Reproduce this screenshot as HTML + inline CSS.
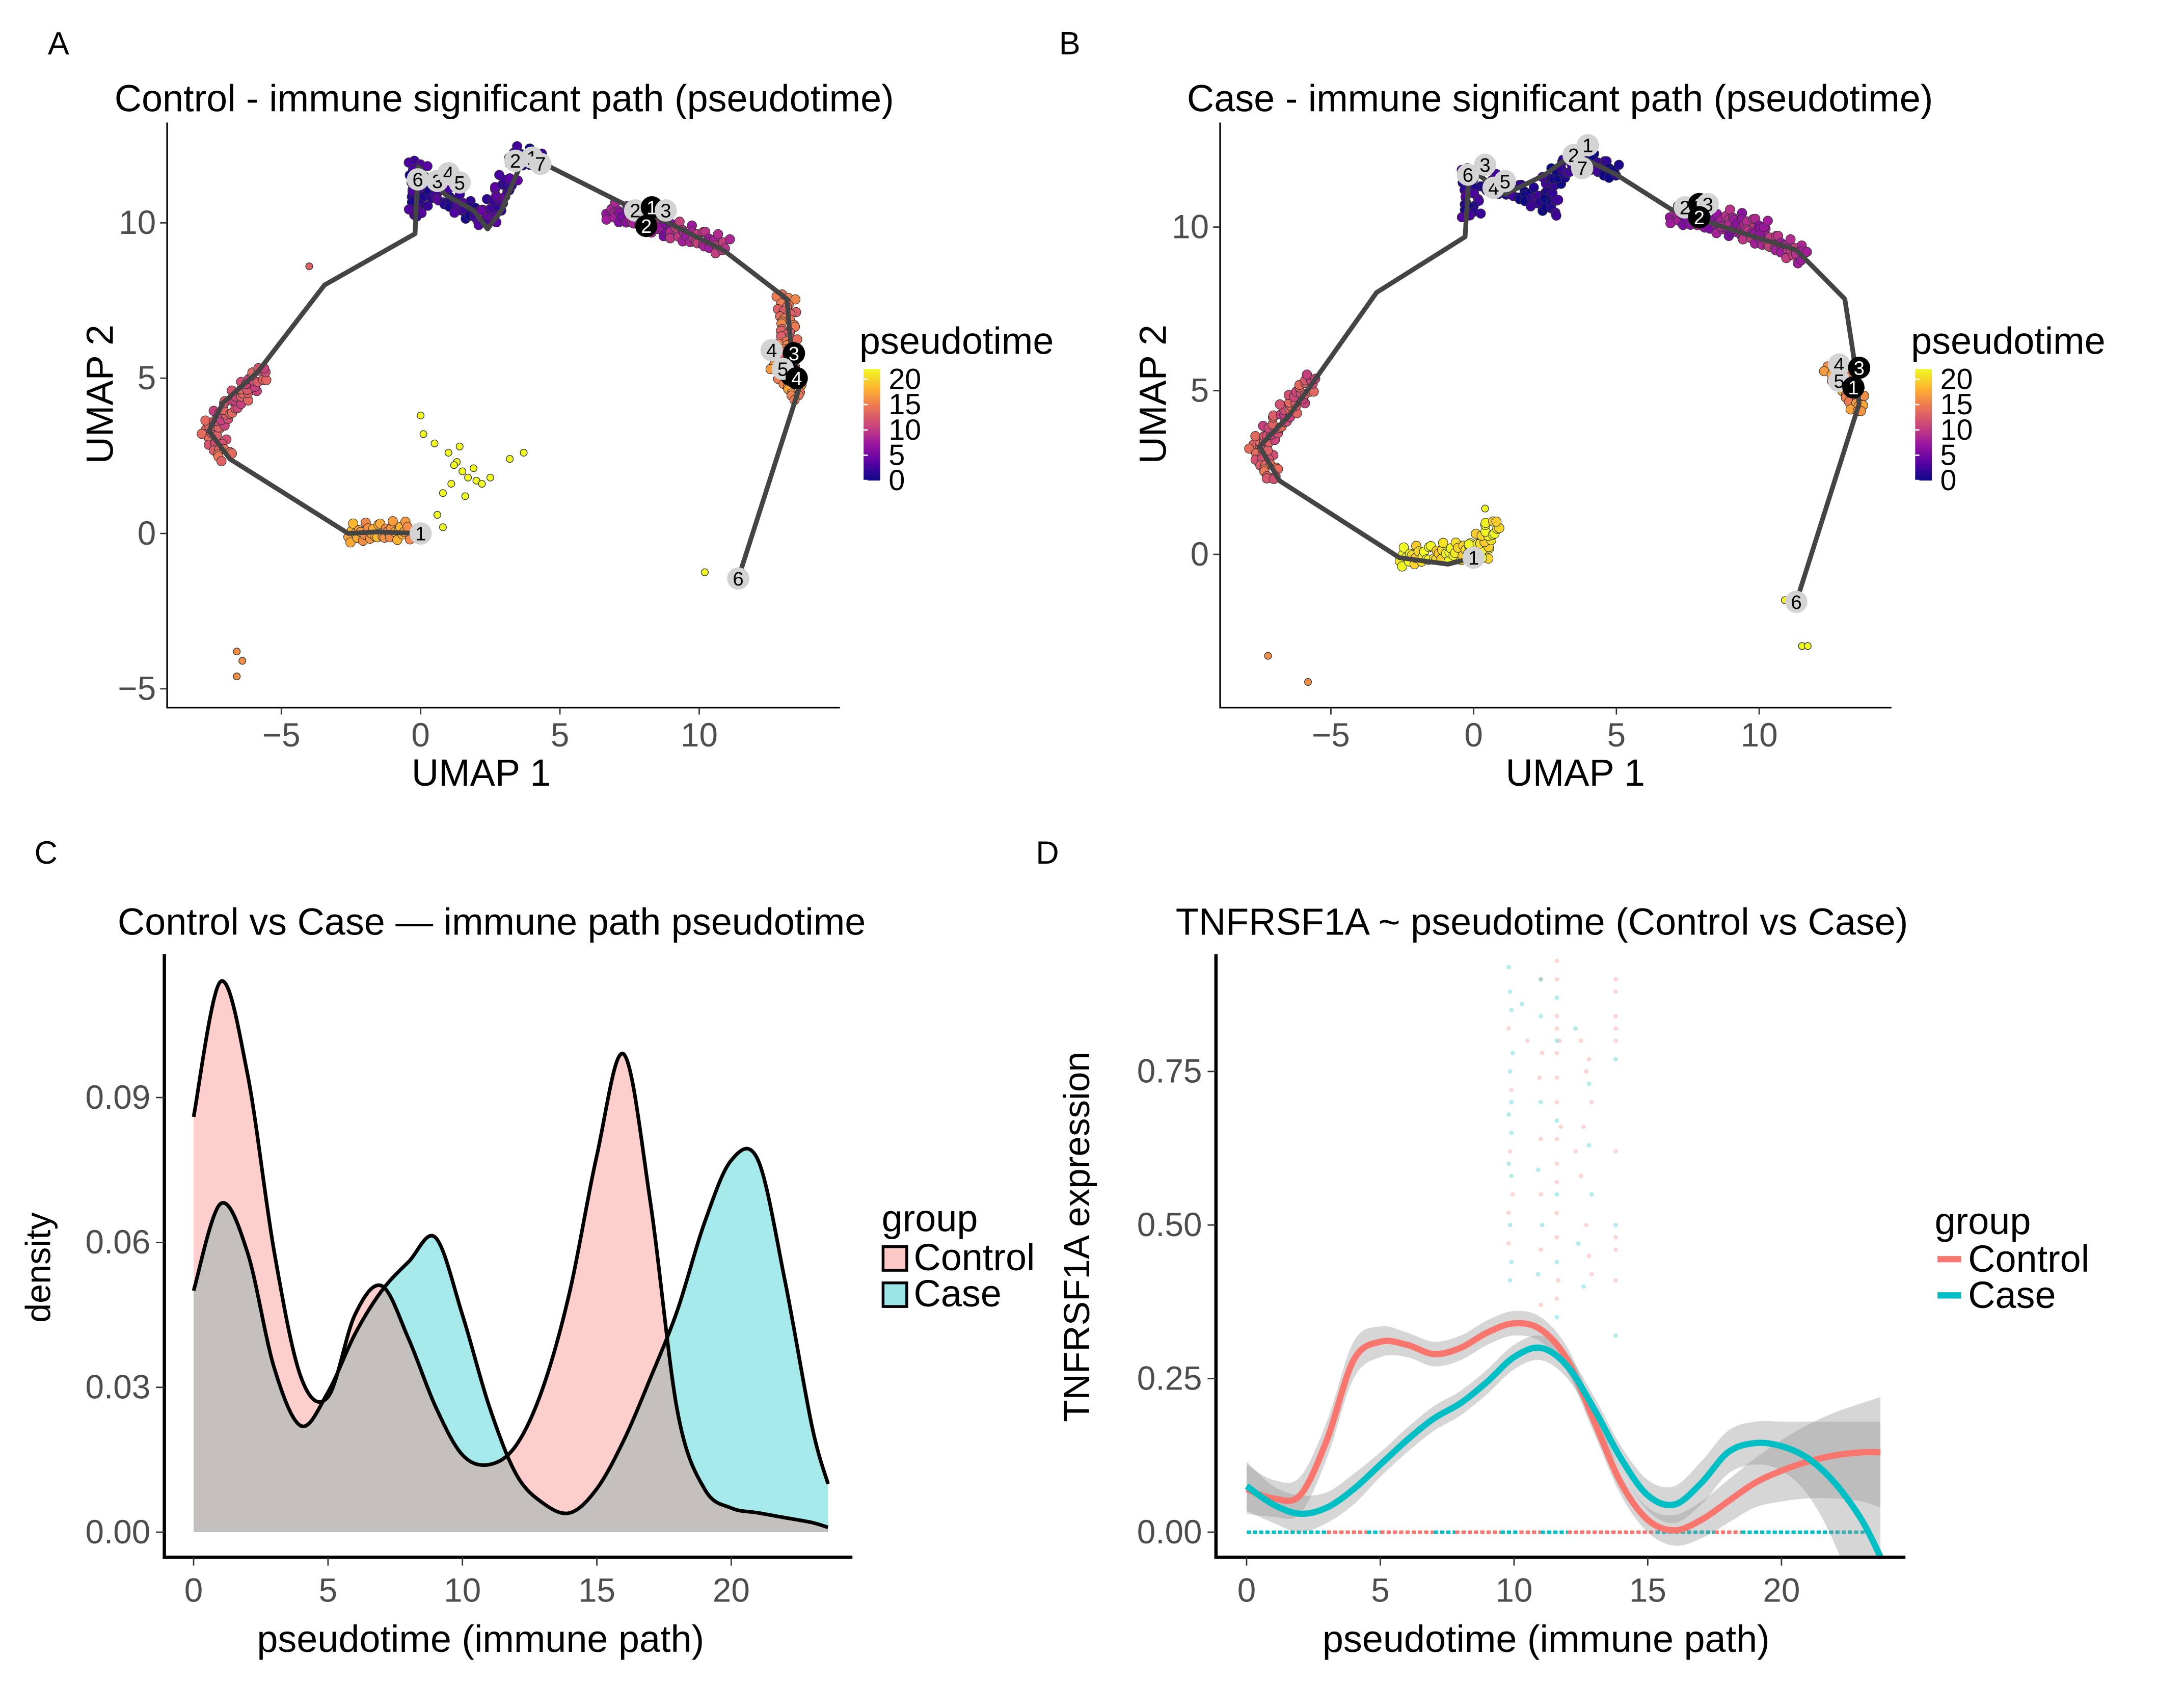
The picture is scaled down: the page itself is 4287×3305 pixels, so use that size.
<!DOCTYPE html>
<html><head><meta charset="utf-8">
<style>
html,body{margin:0;padding:0;background:#fff;}
svg{display:block;font-family:"Liberation Sans",sans-serif;}
</style></head>
<body>
<svg id="fig" xmlns="http://www.w3.org/2000/svg" width="4287" height="3305" viewBox="0 0 1568 1209" preserveAspectRatio="none">
<defs>
<linearGradient id="plasma" x1="0" y1="1" x2="0" y2="0">
<stop offset="0" stop-color="#0d0887"/><stop offset="0.17" stop-color="#5c01a6"/><stop offset="0.33" stop-color="#9c179e"/><stop offset="0.5" stop-color="#cc4778"/><stop offset="0.67" stop-color="#ed7953"/><stop offset="0.83" stop-color="#fdb42f"/><stop offset="1" stop-color="#f0f921"/>
</linearGradient>
<clipPath id="clipD"><rect x="874" y="685" width="494" height="432"/></clipPath>
</defs>
</svg>
<script>
// ---------- DATA ----------
const trajAx=[0,-1.6,-2.6,-6.85,-7.6,-7.1,-5.85,-3.45,-0.2,-0.1,0.9,1.9,2.4,2.9,3.65,4.65,7.65,8.9,10.9,13.15,13.3,13.65,11.4];
const trajAy=[0,0.05,0,2.4,3.3,4.2,5.2,8.0,9.65,11.8,10.9,10.4,9.8,10.4,12.0,11.8,10.45,10.0,9.1,7.55,5.95,4.85,-1.45];
const cellsA=[[-2.6,0,-0.4,0.1,17],[-7.6,3.4,-7.0,2.4,13],[-7.6,3.3,-5.6,5.3,12],[-0.1,12,-0.1,10.2,2],[-0.2,11.3,2.4,10.1,2],[2.4,10.1,3.2,11.5,3],[3.2,12.2,4.3,12,1],[6.7,10.4,9,9.8,7],[9,9.8,11,9.2,9],[13.1,7.7,13.2,5.3,14],[12.8,5.5,13.6,4.4,16]];
const outAx=[0,0.1,0.5,1,1.3,1.5,1.7,2,2.2,1.6,1.1,0.8,3.7,3.2,0.6,0.8,1.9,2.5,-6.6,-6.4,-6.6,10.2,-4,1.2,1.4];
const outAy=[3.8,3.2,2.9,2.6,2.3,2.0,1.8,1.7,1.6,1.2,1.6,1.3,2.6,2.4,0.6,0.2,2.1,1.8,-3.8,-4.1,-4.6,-1.25,8.6,2.2,2.8];
const outAt=[22,22,22,22,22,22,22,22,22,22,22,22,22,22,22,22,22,22,16,16,16,22,13,22,22];
const labAx=[0,-0.1,0.6,1.0,1.4,3.4,4.0,4.3,7.7,8.3,8.8,8.1,12.6,13.4,13.3,13.0,13.5,11.4];
const labAy=[0,11.4,11.35,11.6,11.3,12.0,12.1,11.9,10.4,10.5,10.4,9.9,5.9,5.8,5.1,5.3,5.0,-1.45];
const labAn=["1","6","3","4","5","2","1","7","2","1","3","2","4","3","1","5","4","6"];
const labAk=[0,0,0,0,0,0,0,0,0,1,0,1,0,1,1,0,1,0];
const trajBx=[0,-0.9,-2.6,-6.8,-7.5,-6.5,-5.75,-3.4,-0.3,-0.15,1.1,2.5,3.5,5,6.9,8.4,11.3,13,13.3,13.5,11.3];
const trajBy=[-0.1,-0.3,-0.1,2.25,3.3,4.2,5.1,8.0,9.7,11.8,11,11.6,12.25,11.6,10.55,10.1,9.3,7.8,6.1,4.6,-1.45];
const cellsB=[[-2.6,-0.1,0.6,0.2,21],[0,0,0.8,1.0,21],[-7.6,3.4,-7.0,2.3,13],[-7.5,3.3,-5.6,5.4,12],[-0.1,11.8,-0.1,10.3,2],[0.5,11.4,3.0,10.6,1],[2.5,11.2,3.6,12.1,1],[3.5,12.2,5,11.6,1],[6.9,10.4,9.5,9.9,7],[9.5,9.9,11.6,9.1,9],[8.7,10.3,10.2,9.9,8],[12.5,5.8,13.6,4.4,16]];
const outBx=[-7.2,-5.8,10.9,11.5,11.7,0.4];
const outBy=[-3.1,-3.9,-1.4,-2.8,-2.8,1.4];
const outBt=[16,16,22,22,22,22];
const labBx=[0,-0.2,0.4,0.7,1.1,3.5,4.0,3.8,7.4,7.9,8.2,7.9,12.8,13.5,12.8,13.3,11.3];
const labBy=[-0.1,11.6,11.9,11.2,11.4,12.2,12.5,11.8,10.6,10.7,10.7,10.3,5.8,5.7,5.3,5.1,-1.45];
const labBn=["1","6","3","4","5","2","1","7","2","1","3","2","4","3","5","1","6"];
const labBk=[0,0,0,0,0,0,0,0,0,1,0,1,0,1,0,1,0];
// Panel C densities
const densT=[0,1,2,3,4,5,6,7,8,9,10,11,12,13,14,15,16,17,18,19,20,21,22,23,23.6];
const densControl=[0.086,0.114,0.095,0.058,0.032,0.028,0.045,0.051,0.040,0.026,0.016,0.014,0.018,0.030,0.050,0.078,0.099,0.068,0.025,0.009,0.005,0.004,0.003,0.002,0.001];
const densCase=[0.050,0.068,0.058,0.034,0.022,0.029,0.041,0.050,0.056,0.061,0.045,0.026,0.012,0.006,0.004,0.009,0.019,0.032,0.046,0.064,0.077,0.077,0.052,0.022,0.010];
const cTicks=[0,5,10,15,20];
const cYTicks=[0,0.03,0.06,0.09];
const cYLabels=["0.00","0.03","0.06","0.09"];
// Panel D smooths
const smT=[0,1,2,3,4,5,6,7,8,9,10,11,12,13,14,15,16,17,18,19,20,21,22,23,23.7];
const smControl=[0.07,0.055,0.06,0.15,0.28,0.31,0.305,0.29,0.30,0.325,0.34,0.33,0.28,0.18,0.08,0.02,0.003,0.02,0.05,0.08,0.10,0.115,0.125,0.13,0.13];
const seControl=[0.04,0.03,0.03,0.03,0.03,0.025,0.02,0.02,0.02,0.02,0.02,0.02,0.02,0.02,0.02,0.02,0.025,0.03,0.035,0.04,0.05,0.06,0.07,0.08,0.09];
const smCase=[0.075,0.045,0.03,0.04,0.07,0.11,0.15,0.185,0.21,0.245,0.285,0.30,0.27,0.20,0.12,0.06,0.045,0.08,0.13,0.145,0.14,0.12,0.08,0.02,-0.04];
const seCase=[0.04,0.03,0.03,0.025,0.025,0.02,0.02,0.02,0.02,0.02,0.02,0.02,0.02,0.02,0.02,0.025,0.03,0.035,0.035,0.035,0.04,0.06,0.1,0.16,0.22];
// scatter of non-zero expression (pseudotime, value, group 1=case)
const ptT=[9.8,9.85,9.9,9.8,9.95,9.85,9.9,9.8,9.9,9.85,9.8,9.9,9.95,9.85,9.8,9.9,9.85,9.8,9.9,10.3,10.5,
 11.0,11.0,11.05,10.95,11.0,11.0,10.9,11.0,11.05,11.0,10.9,11.0,11.05,11.0,
 11.6,11.6,11.6,11.6,11.6,11.6,11.6,11.6,11.6,11.6,11.6,11.6,11.6,11.6,11.6,11.6,11.6,11.65,11.6,11.6,11.7,11.75,
 12.3,12.5,12.7,12.8,12.9,12.6,12.8,12.5,12.9,12.7,12.4,12.8,12.9,12.6,12.3,12.8,
 13.8,13.8,13.8,13.8,13.8,13.8,13.8,13.8,13.8,13.8,13.8,13.8];
const ptY=[0.92,0.88,0.85,0.82,0.78,0.75,0.72,0.68,0.65,0.62,0.6,0.58,0.55,0.5,0.47,0.44,0.41,0.52,0.7,0.86,0.8,
 0.9,0.84,0.78,0.74,0.7,0.64,0.59,0.55,0.5,0.46,0.42,0.37,0.33,0.9,
 0.93,0.9,0.87,0.84,0.82,0.8,0.78,0.74,0.7,0.67,0.64,0.6,0.57,0.55,0.52,0.48,0.44,0.41,0.38,0.35,0.8,0.66,
 0.82,0.8,0.75,0.73,0.7,0.66,0.63,0.58,0.55,0.5,0.47,0.45,0.42,0.4,0.62,0.77,
 0.9,0.88,0.84,0.82,0.8,0.77,0.62,0.5,0.48,0.46,0.41,0.32];
const ptG=[1,1,1,0,1,1,0,1,1,0,1,1,0,1,0,1,1,0,1,1,0,
 0,1,0,0,1,0,1,0,1,0,1,0,0,1,
 0,0,1,0,0,1,0,0,0,1,0,0,0,1,0,0,1,0,0,1,0,0,
 1,0,0,1,0,0,1,0,1,0,1,0,0,1,0,0,
 0,0,0,0,0,1,0,1,0,0,0,1];
const rugControl=[[3,4.5],[5,7],[7.8,9.5],[10.2,11],[12,15.3],[17.5,18.5]];
const rugCase=[[0,3],[4.5,5],[7,7.8],[9.5,10.2],[11,12],[15.3,17.5],[18.5,23.2]];
const dTicks=[0,5,10,15,20];
const dYTicks=[0,0.25,0.5,0.75];
const dYLabels=["0.00","0.25","0.50","0.75"];

// ---------- helpers ----------
const svg=document.getElementById('fig');
const NS='http://www.w3.org/2000/svg';
function mk(tag,attrs,parent){const e=document.createElementNS(NS,tag);for(const k in attrs)e.setAttribute(k,attrs[k]);(parent||svg).appendChild(e);return e;}
const stops=[[13,8,135],[92,1,166],[156,23,158],[204,71,120],[237,121,83],[253,180,47],[240,249,33]];
function plasma(t){let v=Math.max(0,Math.min(1,t/22))*6;const i=Math.min(5,Math.floor(v)),f=v-i;const a=stops[i],b=stops[i+1];return 'rgb('+[0,1,2].map(k=>Math.round(a[k]+(b[k]-a[k])*f)).join(',')+')';}
function txt(x,y,s,size,opt){opt=opt||{};const e=mk('text',{x:x,y:y,'font-size':size,fill:opt.fill||'#000','text-anchor':opt.anchor||'middle'},opt.parent);if(opt.rot)e.setAttribute('transform','rotate(-90 '+x+' '+y+')');e.textContent=s;return e;}
function smooth(pts){let d='M'+pts[0][0]+','+pts[0][1];for(let i=0;i<pts.length-1;i++){const p0=pts[i-1]||pts[i],p1=pts[i],p2=pts[i+1],p3=pts[i+2]||p2;d+=' C'+(p1[0]+(p2[0]-p0[0])/6)+','+(p1[1]+(p2[1]-p0[1])/6)+' '+(p2[0]-(p3[0]-p1[0])/6)+','+(p2[1]-(p3[1]-p1[1])/6)+' '+p2[0]+','+p2[1];}return d;}
const TICK=24, AXT=27, TIT=27;

let t;
t=txt(42,39,'A',23);
t=txt(768,39,'B',23);
t=txt(33,620,'C',23);
t=txt(752,620,'D',23);

function umap(cfg){
  const g=mk('g',{});
  
  
  const X=v=>cfg.x0+cfg.sx*v, Y=v=>cfg.y0-cfg.sy*v;
  cfg.cells.forEach(c=>{
    const px0=X(c[0]),py0=Y(c[1]),px1=X(c[2]),py1=Y(c[3]);
    const L=Math.hypot(px1-px0,py1-py0),n=Math.max(2,Math.round(L/1.3));
    const nx=-(py1-py0)/(L||1),ny=(px1-px0)/(L||1);
    for(let i=0;i<=n;i++){const f=i/n;const o=5*Math.sin(i*1.7)+2.5*Math.cos(i*0.9);
      const d=mk('circle',{cx:px0+(px1-px0)*f+nx*o,cy:py0+(py1-py0)*f+ny*o,r:3.4,fill:plasma(c[4]+1.5*Math.sin(i*0.5)),stroke:'#333','stroke-width':0.4},g);
      
      }
  });
  cfg.ox.forEach((v,i)=>{const d=mk('circle',{cx:X(v),cy:Y(cfg.oy[i]),r:2.5,fill:plasma(cfg.ot[i]),stroke:'#333','stroke-width':0.5},g);
    
    });
  const pl=mk('polyline',{points:cfg.tx.map((v,i)=>X(v)+','+Y(cfg.ty[i])).join(' '),fill:'none',stroke:'#444','stroke-width':3.4,'stroke-linejoin':'round'},g);
  
  
  cfg.lx.forEach((v,i)=>{const k=cfg.lk[i];
    const c=mk('circle',{cx:X(v),cy:Y(cfg.ly[i]),r:8,fill:k?'#000':'#d3d3d3'},g);
    
    
    const tt=txt(X(v),Y(cfg.ly[i])+5,cfg.ln[i],14,{fill:k?'#fff':'#000',parent:g});
    
    });
  const ax=mk('path',{d:'M'+cfg.l+','+cfg.t+' V'+cfg.b+' H'+cfg.r,fill:'none',stroke:'#000','stroke-width':1.2},g);
  
  
  [-5,0,5,10].forEach(v=>{mk('line',{x1:X(v),x2:X(v),y1:cfg.b,y2:cfg.b+5,stroke:'#333'},g);
    const tl=txt(X(v),cfg.b+28,v<0?'\u2212'+(-v):''+v,TICK,{fill:'#4d4d4d',parent:g});
    
    });
  cfg.yt.forEach(v=>{mk('line',{x1:cfg.l-5,x2:cfg.l,y1:Y(v),y2:Y(v),stroke:'#333'},g);
    const tl=txt(cfg.l-8,Y(v)+8,v<0?'\u2212'+(-v):''+v,TICK,{fill:'#4d4d4d',anchor:'end',parent:g});
    
    });
  let e=txt((cfg.l+cfg.r)/2+(cfg.name=='umap-control'?-16:14),564,'UMAP 1',AXT,{parent:g});
  
  
  e=txt(cfg.l-39,(cfg.t+cfg.b)/2-15,'UMAP 2',AXT,{rot:1,parent:g});
  
  
  e=txt(cfg.tcx,80,cfg.title,TIT,{parent:g});
  
  
  e=txt(cfg.r+14,254,'pseudotime',AXT,{anchor:'start',parent:g});
  
  
  e=mk('rect',{x:cfg.r+17,y:265,width:12,height:80,fill:'url(#plasma)'},g);
  
  
  [20,15,10,5,0].forEach(v=>{const yy=345-v/22*80;
    mk('line',{x1:cfg.r+17,x2:cfg.r+20,y1:yy,y2:yy,stroke:'#fff'},g);
    const tl=txt(cfg.r+35,yy+7,''+v,21,{anchor:'start',parent:g});
    
    });
}
umap({name:'umap-control',x0:302,sx:20,y0:383,sy:22.3,l:120,r:603,t:88,b:508,yt:[-5,0,5,10],tx:trajAx,ty:trajAy,cells:cellsA,ox:outAx,oy:outAy,ot:outAt,lx:labAx,ly:labAy,ln:labAn,lk:labAk,title:'Control - immune significant path (pseudotime)',tcx:362});
umap({name:'umap-case',x0:1058,sx:20.5,y0:398,sy:23.5,l:876,r:1358,t:88,b:508,yt:[0,5,10],tx:trajBx,ty:trajBy,cells:cellsB,ox:outBx,oy:outBy,ot:outBt,lx:labBx,ly:labBy,ln:labBn,lk:labBk,title:'Case - immune significant path (pseudotime)',tcx:1120});

// ---------- Panel C ----------
(function(){
  const g=mk('g',{});
  
  
  const X=v=>139+19.3*v, Y=v=>1100-3467*v;
  function area(vals,col,name){
    const pts=densT.map((tt,i)=>[X(tt),Y(vals[i])]);
    const d=smooth(pts);
    const a=mk('path',{d:d+' L'+X(densT[densT.length-1])+','+Y(0)+' L'+X(0)+','+Y(0)+' Z',fill:col,'fill-opacity':0.35,stroke:'none'},g);
    
    
    return ()=>{const l=mk('path',{d:d,fill:'none',stroke:'#000','stroke-width':2.6},g);
    
    };
  }
  const l1=area(densCase,'#00BFC4','density-case');
  const l2=area(densControl,'#F8766D','density-control');
  l1();l2();
  let e=mk('path',{d:'M118,685 V1118 H612',fill:'none',stroke:'#000','stroke-width':2.4},g);
  
  
  cTicks.forEach(v=>{mk('line',{x1:X(v),x2:X(v),y1:1118,y2:1124,stroke:'#333'},g);
    const tl=txt(X(v),1150,''+v,TICK,{fill:'#4d4d4d',parent:g});
    
    });
  cYTicks.forEach((v,i)=>{mk('line',{x1:112,x2:118,y1:Y(v),y2:Y(v),stroke:'#333'},g);
    const tl=txt(108,Y(v)+8,cYLabels[i],TICK,{fill:'#4d4d4d',anchor:'end',parent:g});
    
    });
  e=txt(345,1186,'pseudotime (immune path)',AXT,{parent:g});
  
  
  e=txt(36,910,'density',25,{rot:1,parent:g});
  
  
  e=txt(353,671,'Control vs Case \u2014 immune path pseudotime',TIT,{parent:g});
  
  
  e=txt(633,884,'group',AXT,{anchor:'start',parent:g});
  
  
  e=mk('rect',{x:634,y:895,width:17,height:17,fill:'#F8766D','fill-opacity':0.4,stroke:'#000','stroke-width':2},g);
  
  
  e=mk('rect',{x:634,y:921,width:17,height:17,fill:'#00BFC4','fill-opacity':0.4,stroke:'#000','stroke-width':2},g);
  
  
  e=txt(656,912,'Control',AXT,{anchor:'start',parent:g});
  
  
  e=txt(656,938,'Case',AXT,{anchor:'start',parent:g});
  
  
})();

// ---------- Panel D ----------
(function(){
  const g=mk('g',{});
  
  
  const pg=mk('g',{'clip-path':'url(#clipD)'},g);
  
  
  const X=v=>895+19.2*v, Y=v=>1100-441*v;
  ptT.forEach((v,i)=>{const c=mk('circle',{cx:X(v),cy:Y(ptY[i]),r:1.6,fill:ptG[i]?'#00BFC4':'#F8766D','fill-opacity':0.3},pg);
    
    });
  rugCase.forEach(r=>{const l=mk('line',{x1:X(r[0]),x2:X(r[1]),y1:Y(0),y2:Y(0),stroke:'#00BFC4','stroke-width':2.5,'stroke-dasharray':'3 1.5'},pg);
    
    });
  rugControl.forEach(r=>{const l=mk('line',{x1:X(r[0]),x2:X(r[1]),y1:Y(0),y2:Y(0),stroke:'#F8766D','stroke-width':2.5,'stroke-dasharray':'3 1.5'},pg);
    
    });
  function band(m,se,col,name){
    const up=smT.map((tt,i)=>[X(tt),Y(m[i]+se[i])]);
    const lo=smT.map((tt,i)=>[X(tt),Y(m[i]-se[i])]).reverse();
    const dl=smooth(lo);
    const r=mk('path',{d:smooth(up)+' L'+dl.slice(1)+' Z',fill:'#999','fill-opacity':0.4},pg);
    
    
    return ()=>{const l=mk('path',{d:smooth(smT.map((tt,i)=>[X(tt),Y(m[i])])),fill:'none',stroke:col,'stroke-width':4.5},pg);
      
      };
  }
  const f1=band(smControl,seControl,'#F8766D','smooth-control');
  const f2=band(smCase,seCase,'#00BFC4','smooth-case');
  f1();f2();
  let e=mk('path',{d:'M873,685 V1118 H1368',fill:'none',stroke:'#000','stroke-width':2.4},g);
  
  
  dTicks.forEach(v=>{mk('line',{x1:X(v),x2:X(v),y1:1118,y2:1124,stroke:'#333'},g);
    const tl=txt(X(v),1150,''+v,TICK,{fill:'#4d4d4d',parent:g});
    
    });
  dYTicks.forEach((v,i)=>{mk('line',{x1:867,x2:873,y1:Y(v),y2:Y(v),stroke:'#333'},g);
    const tl=txt(863,Y(v)+8,dYLabels[i],TICK,{fill:'#4d4d4d',anchor:'end',parent:g});
    
    });
  e=txt(1110,1186,'pseudotime (immune path)',AXT,{parent:g});
  
  
  e=txt(782,888,'TNFRSF1A expression',26,{rot:1,parent:g});
  
  
  e=txt(1107,671,'TNFRSF1A ~ pseudotime (Control vs Case)',TIT,{parent:g});
  
  
  e=txt(1389,886,'group',AXT,{anchor:'start',parent:g});
  
  
  e=mk('line',{x1:1391,x2:1408,y1:904,y2:904,stroke:'#F8766D','stroke-width':4.5},g);
  
  
  e=mk('line',{x1:1391,x2:1408,y1:930,y2:930,stroke:'#00BFC4','stroke-width':4.5},g);
  
  
  e=txt(1413,913,'Control',AXT,{anchor:'start',parent:g});
  
  
  e=txt(1413,939,'Case',AXT,{anchor:'start',parent:g});
  
  
})();
</script>
</body></html>
